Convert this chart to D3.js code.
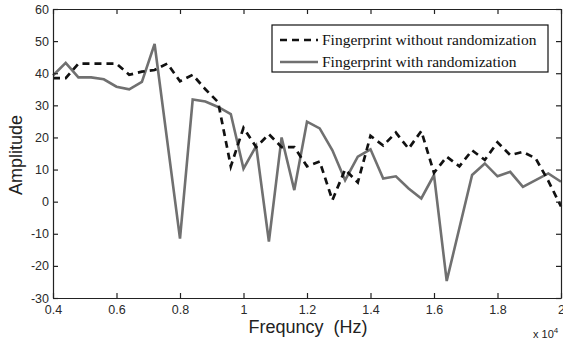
<!DOCTYPE html>
<html><head><meta charset="utf-8">
<script src="https://cdn.jsdelivr.net/npm/d3@7"></script>
<style>body{margin:0;background:#fff}svg{display:block}</style>
</head><body>
<svg id="c" width="563" height="343"></svg>
<script>
// frequency in units of 10^4 Hz
const xWithout = [0.40,0.44,0.48,0.52,0.56,0.60,0.64,0.68,0.72,0.76,0.80,0.84,0.88,0.92,0.96,1.00,1.04,1.08,1.12,1.16,1.20,1.24,1.28,1.32,1.36,1.40,1.44,1.48,1.52,1.56,1.60,1.64,1.68,1.72,1.76,1.80,1.84,1.88,1.92,1.96,2.00];
const yWithout = [38.5,38.5,43,43,43,43,39.5,40.5,41,43,37.5,39.5,35,31,11,23,17,21,17,17,11,12.5,0.5,10,6,20.5,17.5,21.5,16.5,22,9,14,11,16,13,18.5,14.5,15.5,13.5,6.5,-1.5];
const xWith = [0.40,0.44,0.48,0.52,0.56,0.60,0.64,0.68,0.72,0.80,0.84,0.88,0.92,0.96,1.00,1.04,1.08,1.12,1.16,1.20,1.24,1.28,1.32,1.36,1.40,1.44,1.48,1.52,1.56,1.60,1.64,1.72,1.76,1.80,1.84,1.88,1.96,2.00];
const yWith = [39.3,43.2,38.7,38.7,38.1,35.8,35,37.3,49.1,-11.5,31.8,31.2,29.5,27.3,10.3,17.3,-12.4,20,3.6,24.9,22.8,16,6.7,14,16.3,7.2,7.9,4.1,1,8.3,-24.7,8.3,11.9,7.9,9.3,4.6,8.8,6.2];
const xTicks = [0.4,0.6,0.8,1.0,1.2,1.4,1.6,1.8,2.0];
const xTickLabels = ["0.4","0.6","0.8","1","1.2","1.4","1.6","1.8","2"];
const yTicks = [-30,-20,-10,0,10,20,30,40,50,60];
const seriesNames = ["Fingerprint without randomization","Fingerprint with randomization"];

const svg = d3.select("#c");
const L = 53, R = 561, T = 9, B = 298;
const x = d3.scaleLinear().domain([0.4,2.0]).range([L,R]);
const y = d3.scaleLinear().domain([-30,60]).range([B,T]);
const axisColor = "#222";
const tickFont = "Liberation Sans, Arial, sans-serif";

// lines
const line = (xs) => d3.line().x((d,i)=>x(xs[i])).y(d=>y(d));
svg.append("path").datum(yWith).attr("d", line(xWith))
  .attr("fill","none").attr("stroke","#707070").attr("stroke-width",2.6).attr("stroke-linejoin","miter");
svg.append("path").datum(yWithout).attr("d", line(xWithout))
  .attr("fill","none").attr("stroke","#111").attr("stroke-width",2.7).attr("stroke-dasharray","7,5");

// axes
const gB = svg.append("g").attr("transform",`translate(0,${B})`)
  .call(d3.axisBottom(x).tickValues(xTicks).tickFormat((d,i)=>xTickLabels[i]).tickSizeInner(-5).tickSizeOuter(0).tickPadding(7));
const gT = svg.append("g").attr("transform",`translate(0,${T})`)
  .call(d3.axisTop(x).tickValues(xTicks).tickFormat("").tickSizeInner(-5).tickSizeOuter(0));
const gL = svg.append("g").attr("transform",`translate(${L},0)`)
  .call(d3.axisLeft(y).tickValues(yTicks).tickFormat(d=>String(d)).tickSizeInner(-5).tickSizeOuter(0).tickPadding(4));
const gR = svg.append("g").attr("transform",`translate(${R},0)`)
  .call(d3.axisRight(y).tickValues(yTicks).tickFormat("").tickSizeInner(-5).tickSizeOuter(0));
[gB,gT,gL,gR].forEach(g=>{
  g.selectAll("path.domain").attr("stroke",axisColor).attr("stroke-width",1.2);
  g.selectAll("line").attr("stroke",axisColor).attr("stroke-width",1.2);
  g.selectAll("text").attr("fill","#2a2a2a").style("font-family",tickFont).style("font-size","12.5px");
});

// axis titles
svg.append("text").attr("x",308).attr("y",333).attr("text-anchor","middle")
  .style("font-family",tickFont).style("font-size","18px").attr("fill","#222")
  .attr("xml:space","preserve").text("Frequncy  (Hz)");
svg.append("text").attr("transform","translate(22,155) rotate(-90)").attr("text-anchor","middle")
  .style("font-family",tickFont).style("font-size","18px").attr("fill","#222").text("Amplitude");
const ex = svg.append("text").attr("x",533).attr("y",338)
  .style("font-family",tickFont).style("font-size","11px").attr("fill","#222");
ex.append("tspan").text("x 10");
ex.append("tspan").attr("dy",-5).style("font-size","8px").text("4");

// legend
const lg = svg.append("g");
lg.append("rect").attr("x",272).attr("y",25).attr("width",276).attr("height",47)
  .attr("fill","#fff").attr("stroke","#111").attr("stroke-width",1.2);
const legendStyles = [{stroke:"#111",dash:"7,5"},{stroke:"#707070",dash:null}];
seriesNames.forEach((n,i)=>{
  const cy = 40 + i*22;
  lg.append("line").attr("x1",280).attr("x2",318).attr("y1",cy).attr("y2",cy)
    .attr("stroke",legendStyles[i].stroke).attr("stroke-width",2.6)
    .attr("stroke-dasharray",legendStyles[i].dash);
  lg.append("text").attr("x",322).attr("y",cy+5)
    .style("font-family","Liberation Serif, Times New Roman, serif").style("font-size","15.5px")
    .attr("fill","#111").text(n);
});
</script>
</body></html>
